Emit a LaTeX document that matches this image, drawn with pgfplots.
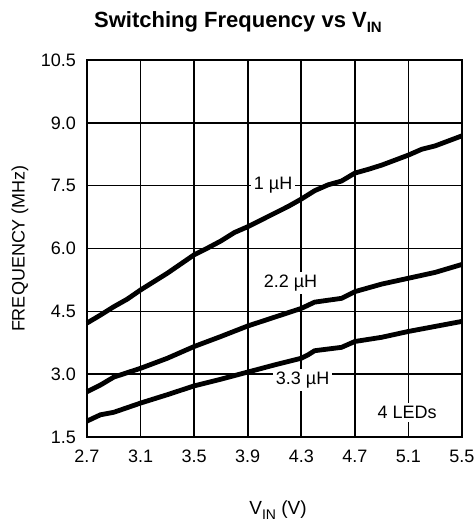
\documentclass[border=0pt]{standalone}
\usepackage{pgfplots}
\pgfplotsset{compat=1.18}
\usepackage{fontspec}
\setmainfont{Liberation Sans}
\begin{document}
\begin{tikzpicture}
\begin{axis}[
  name=ax,
  scale only axis,
  width=187.5pt, height=188.5pt,
  xmin=2.7, xmax=5.5, ymin=1.5, ymax=10.5,
  xtick={2.7,3.1,3.5,3.9,4.3,4.7,5.1,5.5},
  ytick={1.5,3.0,4.5,6.0,7.5,9.0,10.5},
  xticklabels={2.7,3.1,3.5,3.9,4.3,4.7,5.1,5.5},
  yticklabels={1.5,3.0,4.5,6.0,7.5,9.0,10.5},
  major tick length=0pt,
  grid=major,
  major grid style={black, line width=0.8pt},
  axis line style={black, line width=0.9pt},
  tick label style={font=\fontsize{9}{10}\selectfont},
  xticklabel style={yshift=-3pt},
  yticklabel style={xshift=-2pt},
  /pgf/number format/assume math mode=true,
  clip=false,
]
\addplot[black, line width=2.4pt] coordinates {
(2.7,4.22) (2.8,4.41) (2.9,4.61) (3.0,4.79) (3.1,5.01) (3.2,5.21) (3.3,5.41) (3.4,5.63) (3.5,5.85)
(3.6,6.01) (3.7,6.18) (3.8,6.38) (3.9,6.52) (4.0,6.68) (4.1,6.84) (4.2,7.00) (4.3,7.18) (4.4,7.38)
(4.5,7.52) (4.6,7.61) (4.7,7.80) (4.8,7.89) (4.9,7.99) (5.0,8.11) (5.1,8.23) (5.2,8.37) (5.3,8.45)
(5.4,8.57) (5.5,8.69)};
\addplot[black, line width=2.4pt] coordinates {
(2.7,2.58) (2.8,2.74) (2.9,2.93) (3.1,3.14) (3.3,3.38) (3.5,3.66) (3.7,3.90) (3.9,4.15) (4.1,4.36)
(4.3,4.57) (4.4,4.72) (4.6,4.81) (4.7,4.97) (4.9,5.15) (5.1,5.29) (5.3,5.43) (5.5,5.62)};
\addplot[black, line width=2.4pt] coordinates {
(2.7,1.88) (2.8,2.03) (2.9,2.09) (3.1,2.31) (3.3,2.51) (3.5,2.72) (3.7,2.88) (3.9,3.05) (4.1,3.22)
(4.3,3.38) (4.35,3.46) (4.4,3.56) (4.6,3.64) (4.7,3.78) (4.9,3.88) (5.1,4.02) (5.3,4.14) (5.5,4.26)};
\node[fill=white, inner sep=1.5pt, font=\fontsize{9}{10}\selectfont] at (axis cs:4.09,7.5) {1 µH};
\node[fill=white, inner sep=1.5pt, font=\fontsize{9}{10}\selectfont] at (axis cs:4.22,5.18) {2.2 µH};
\node[fill=white, inner sep=1.5pt, font=\fontsize{9}{10}\selectfont] at (axis cs:4.31,2.86) {3.3 µH};
\node[fill=white, inner sep=1.5pt, font=\fontsize{9}{10}\selectfont] at (axis cs:5.09,2.08) {4 LEDs};
\end{axis}
\node[font=\bfseries\fontsize{11}{13}\selectfont] at ([xshift=-18.25pt, yshift=19pt]ax.north) {Switching Frequency vs V\raisebox{-0.45ex}{\fontsize{7.5}{8}\selectfont IN}};
\node[font=\fontsize{9.5}{11}\selectfont] at ([xshift=1.75pt, yshift=-36.5pt]ax.south) {V\raisebox{-0.45ex}{\fontsize{7}{8}\selectfont IN} (V)};
\node[font=\fontsize{9}{10}\selectfont, rotate=90] at ([xshift=-33.5pt]ax.west) {FREQUENCY (MHz)};
\pgfresetboundingbox
\path ([xshift=-43.5pt, yshift=-41.5pt]ax.south west) rectangle ([xshift=6.5pt, yshift=30pt]ax.north east);
\end{tikzpicture}
\end{document}
